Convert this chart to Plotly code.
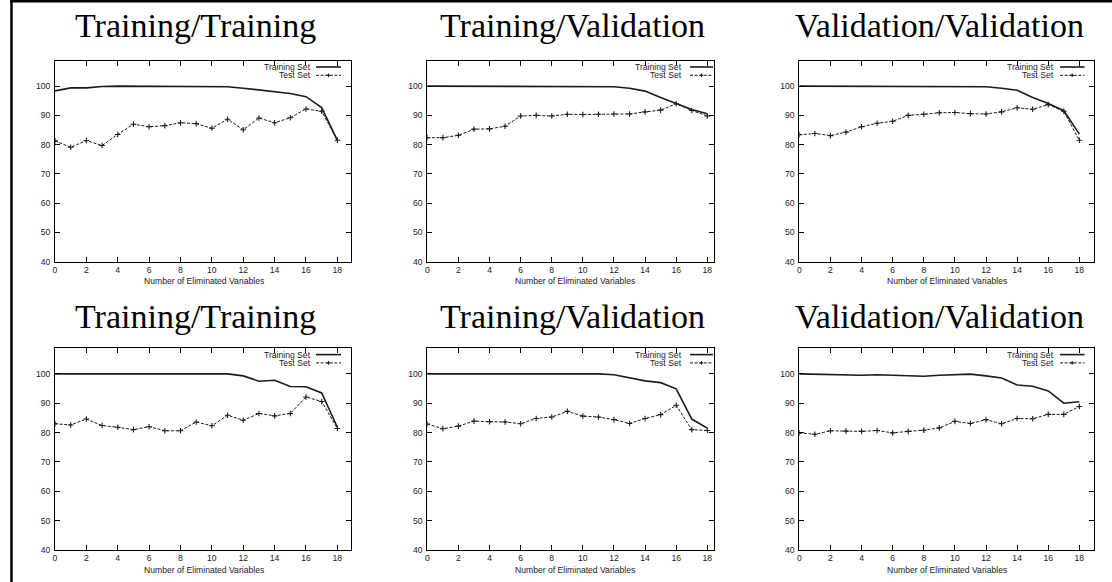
import plotly.graph_objects as go

# ---- data: accuracy (%) vs. number of eliminated variables ----
n_eliminated = list(range(19))

tt_top_train = [98.4, 99.4, 99.4, 99.9, 100.0, 100.0, 100.0, 100.0, 100.0, 99.9,
                99.9, 99.8, 99.3, 98.7, 98.2, 97.5, 96.4, 92.7, 81.5]
tt_top_test = [81.3, 79.1, 81.4, 79.7, 83.5, 87.0, 86.1, 86.5, 87.5, 87.2,
               85.6, 88.7, 85.1, 89.1, 87.5, 89.2, 92.2, 91.4, 81.5]

tv_top_train = [100.0, 100.0, 100.0, 100.0, 100.0, 100.0, 100.0, 100.0, 100.0, 100.0,
                100.0, 100.0, 99.8, 99.3, 98.3, 96.1, 94.1, 92.0, 90.6]
tv_top_test = [82.4, 82.4, 83.2, 85.3, 85.4, 86.3, 89.8, 90.0, 89.8, 90.4,
               90.3, 90.4, 90.5, 90.5, 91.2, 91.8, 94.0, 91.7, 89.8]

vv_top_train = [100.0, 100.0, 100.0, 100.0, 100.0, 100.0, 100.0, 100.0, 100.0, 100.0,
                100.0, 100.0, 99.8, 99.3, 98.6, 96.1, 94.1, 91.6, 83.6]
vv_top_test = [83.4, 83.8, 83.1, 84.3, 86.1, 87.3, 88.0, 90.0, 90.4, 90.9,
               91.0, 90.6, 90.5, 91.2, 92.6, 92.1, 93.7, 91.4, 81.5]

tt_bot_train = [100.0, 100.0, 100.0, 100.0, 100.0, 100.0, 100.0, 100.0, 100.0, 100.0,
                100.0, 100.0, 99.3, 97.5, 97.8, 95.7, 95.6, 93.5, 81.8]
tt_bot_test = [83.0, 82.6, 84.6, 82.4, 81.8, 81.0, 82.0, 80.6, 80.6, 83.6,
               82.3, 85.9, 84.2, 86.5, 85.7, 86.5, 92.1, 90.6, 81.4]

tv_bot_train = [100.0, 100.0, 100.0, 100.0, 100.0, 100.0, 100.0, 100.0, 100.0, 100.0,
                100.0, 100.0, 99.7, 98.6, 97.6, 97.0, 94.9, 84.6, 81.5]
tv_bot_test = [82.9, 81.3, 82.2, 83.9, 83.7, 83.6, 83.0, 84.8, 85.3, 87.2,
               85.6, 85.3, 84.4, 83.1, 84.8, 86.1, 89.3, 81.0, 80.7]

vv_bot_train = [100.0, 99.9, 99.7, 99.8, 99.5, 99.7, 99.5, 99.4, 99.2, 99.5,
                99.7, 99.9, 99.3, 98.6, 96.2, 95.8, 94.2, 90.0, 90.5]
vv_bot_test = [79.9, 79.4, 80.6, 80.5, 80.4, 80.7, 79.9, 80.4, 80.8, 81.6,
               83.8, 83.1, 84.4, 83.0, 84.8, 84.7, 86.2, 86.2, 88.9]

panel_titles = ["Training/Training", "Training/Validation", "Validation/Validation"]
x_label = "Number of Eliminated Variables"
legend_labels = ["Training Set", "Test Set"]
y_ticks = [40, 50, 60, 70, 80, 90, 100]
x_ticks = [0, 2, 4, 6, 8, 10, 12, 14, 16, 18]

series = [
    (tt_top_train, tt_top_test), (tv_top_train, tv_top_test), (vv_top_train, vv_top_test),
    (tt_bot_train, tt_bot_test), (tv_bot_train, tv_bot_test), (vv_bot_train, vv_bot_test),
]

# ---- page geometry (pixels) ----
W, H = 1112, 582


def fx(p):
    return p / W


def fy(p):
    return 1 - p / H


col_box = [(55.0, 350.7), (427.3, 714.0), (799.3, 1094.0)]
col_xmax = [18.85, 18.43, 18.94]
row_box = [(60.7, 261.7), (348.3, 550.0)]
title_cx = [196, 572, 939]
title_cy = [26, 316]
xlabel_cx = [203.5, 575, 947]
xlabel_dy = 19.5
legend_text_right = [312.7, 684.3, 1056.0]
legend_sample = [(316.0, 341.0), (690.0, 713.0), (1060.0, 1084.5)]

INK = "#1b1b1b"
SANS = "Liberation Sans, Arial, sans-serif"
SERIF = "Liberation Serif, Times New Roman, serif"
SMALL = 8.6
TEST_DASH = "3px,1.6px"

fig = go.Figure()
annotations = []
shapes = []
layout_axes = {}

for i, (train, test) in enumerate(series):
    r, c = divmod(i, 3)
    k = i + 1
    xa = "x" if k == 1 else f"x{k}"
    ya = "y" if k == 1 else f"y{k}"
    left, right = col_box[c]
    top, bottom = row_box[r]

    fig.add_trace(go.Scatter(
        x=n_eliminated, y=train, xaxis=xa, yaxis=ya, mode="lines",
        line=dict(color=INK, width=1.6), showlegend=False, hoverinfo="skip"))
    fig.add_trace(go.Scatter(
        x=n_eliminated, y=test, xaxis=xa, yaxis=ya, mode="lines+markers",
        line=dict(color=INK, width=1.0, dash=TEST_DASH),
        marker=dict(symbol="cross-thin", size=4, line=dict(color=INK, width=1.1)),
        showlegend=False, hoverinfo="skip"))

    axis_common = dict(
        showline=True, linecolor="black", linewidth=1, mirror="ticks",
        ticks="inside", ticklen=5, tickwidth=1, tickcolor="black",
        showgrid=False, zeroline=False, automargin=False,
        tickfont=dict(family=SANS, size=SMALL, color=INK))
    layout_axes["xaxis" if k == 1 else f"xaxis{k}"] = dict(
        axis_common, domain=[fx(left), fx(right)], range=[0, col_xmax[c]],
        tickvals=x_ticks, anchor=ya, ticklabelstandoff=0)
    layout_axes["yaxis" if k == 1 else f"yaxis{k}"] = dict(
        axis_common, domain=[fy(bottom), fy(top)], range=[40, 108.7],
        tickvals=y_ticks, anchor=xa, ticklabelstandoff=2)

    # panel title
    annotations.append(dict(
        text=panel_titles[c], xref="paper", yref="paper",
        x=fx(title_cx[c]), y=fy(title_cy[r]), xanchor="center", yanchor="middle",
        showarrow=False, font=dict(family=SERIF, size=34, color="black")))
    # x-axis label
    annotations.append(dict(
        text=x_label, xref="paper", yref="paper",
        x=fx(xlabel_cx[c]), y=fy(bottom + xlabel_dy), xanchor="center", yanchor="middle",
        showarrow=False, font=dict(family=SANS, size=SMALL, color=INK)))

    # key in the upper right corner
    for j, label in enumerate(legend_labels):
        ly = top + 6.3 + j * 8.3
        annotations.append(dict(
            text=label, xref="paper", yref="paper",
            x=fx(legend_text_right[c]), y=fy(ly), xanchor="right", yanchor="middle",
            showarrow=False, font=dict(family=SANS, size=SMALL, color=INK)))
        s0, s1 = legend_sample[c]
        shapes.append(dict(
            type="line", xref="paper", yref="paper",
            x0=fx(s0), x1=fx(s1), y0=fy(ly), y1=fy(ly),
            line=dict(color=INK, width=1.6 if j == 0 else 1.0,
                      dash="solid" if j == 0 else TEST_DASH)))
        if j == 1:
            mx = (s0 + s1) / 2
            shapes.append(dict(type="line", xref="paper", yref="paper",
                               x0=fx(mx - 1.8), x1=fx(mx + 1.8), y0=fy(ly), y1=fy(ly),
                               line=dict(color=INK, width=1.1)))
            shapes.append(dict(type="line", xref="paper", yref="paper",
                               x0=fx(mx), x1=fx(mx), y0=fy(ly - 1.8), y1=fy(ly + 1.8),
                               line=dict(color=INK, width=1.1)))

# page frame along the top and left edges
shapes.append(dict(type="line", xref="paper", yref="paper",
                   x0=fx(10), x1=1, y0=fy(1.2), y1=fy(1.2),
                   line=dict(color="black", width=2.5)))
shapes.append(dict(type="line", xref="paper", yref="paper",
                   x0=fx(11.5), x1=fx(11.5), y0=0, y1=1,
                   line=dict(color="black", width=2.5)))

fig.update_layout(
    width=W, height=H, margin=dict(l=0, r=0, t=0, b=0),
    paper_bgcolor="white", plot_bgcolor="white",
    annotations=annotations, shapes=shapes, showlegend=False,
    **layout_axes)

fig.write_html("out.html", config={"displayModeBar": False})
